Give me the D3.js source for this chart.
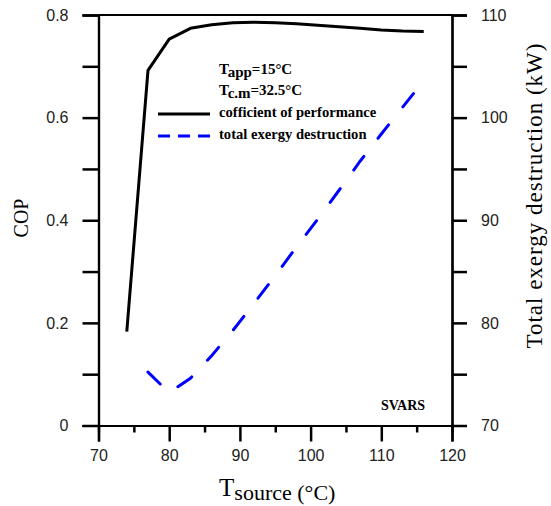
<!DOCTYPE html>
<html>
<head>
<meta charset="utf-8">
<script src="https://cdn.jsdelivr.net/npm/d3@7"></script>
<style>
  body { margin: 0; background: #fff; }
  .tick text { font-family: "Liberation Sans", Arial, sans-serif; font-size: 16px; fill: #222; }
  .serif { font-family: "Liberation Serif", "Times New Roman", serif; }
</style>
</head>
<body>
<div id="chart"></div>
<script>
// data
const tSource = [74, 77, 80, 83, 86, 89, 92, 95, 98, 101, 104, 107, 110, 113, 116];
const cop = [0.183, 0.692, 0.753, 0.774, 0.781, 0.785, 0.786, 0.785, 0.783, 0.780, 0.777, 0.774, 0.771, 0.769, 0.768];
const tExergy = [77, 80, 83, 86, 89, 92, 95, 98, 101, 104, 107, 110, 113, 116];
const exergy = [75.2, 73.2, 74.6, 76.8, 79.25, 81.9, 84.6, 87.4, 90.1, 92.9, 95.75, 98.4, 101.0, 103.6];
const xTicks = [70, 80, 90, 100, 110, 120];
const copTicks = [0, 0.2, 0.4, 0.6, 0.8];
const exTicks = [70, 80, 90, 100, 110];

const W = 551, H = 506;
const margin = {top: 15, right: 99, bottom: 80.5, left: 98.5};
const width = W - margin.left - margin.right;
const height = H - margin.top - margin.bottom;

const svg = d3.select("#chart")
    .append("svg")
    .attr("width", W)
    .attr("height", H)
    .append("g")
    .attr("transform", `translate(${margin.left},${margin.top})`);

const x = d3.scaleLinear().domain([70, 120]).range([0, width]);
const yL = d3.scaleLinear().domain([0, 0.8]).range([height, 0]);
const yR = d3.scaleLinear().domain([70, 110]).range([height, 0]);

// minor ticks first, then major ticks with labels
svg.append("g")
    .attr("transform", `translate(0,${height})`)
    .call(d3.axisBottom(x).tickValues([75, 85, 95, 105, 115]).tickSize(7).tickFormat(""));
svg.append("g")
    .attr("transform", `translate(0,${height})`)
    .call(d3.axisBottom(x).tickValues(xTicks).tickSize(16).tickPadding(8).tickFormat(d3.format("d")));

svg.append("g")
    .call(d3.axisLeft(yL).tickValues([0.1, 0.3, 0.5, 0.7]).tickSize(16).tickFormat(""));
svg.append("g")
    .call(d3.axisLeft(yL).tickValues(copTicks).tickSize(16).tickPadding(14).tickFormat(d => d === 0 ? "0" : d3.format(".1f")(d)));

svg.append("g")
    .attr("transform", `translate(${width},0)`)
    .call(d3.axisRight(yR).tickValues([75, 85, 95, 105]).tickSize(15).tickFormat(""));
svg.append("g")
    .attr("transform", `translate(${width},0)`)
    .call(d3.axisRight(yR).tickValues(exTicks).tickSize(15).tickPadding(14).tickFormat(d3.format("d")));

svg.selectAll(".domain").attr("stroke", "#000").attr("stroke-width", 2.2);
svg.selectAll(".tick line").attr("stroke", "#000").attr("stroke-width", 2.5);

// top frame line
svg.append("line")
    .attr("x1", 0).attr("x2", width)
    .attr("y1", 0).attr("y2", 0)
    .attr("stroke", "#000").attr("stroke-width", 2.2);

// series
const copLine = d3.line().x((d, i) => x(tSource[i])).y(d => yL(d));
svg.append("path")
    .datum(cop)
    .attr("d", copLine)
    .attr("fill", "none")
    .attr("stroke", "#000")
    .attr("stroke-width", 3)
    .attr("stroke-linejoin", "round");

const exLine = d3.line().x((d, i) => x(tExergy[i])).y(d => yR(d));
svg.append("path")
    .datum(exergy)
    .attr("d", exLine)
    .attr("fill", "none")
    .attr("stroke", "#0000ff")
    .attr("stroke-width", 3)
    .attr("stroke-dasharray", "17,23")
    .attr("stroke-linecap", "round");

// legend / annotations (bold Times)
const ann = svg.append("g").attr("class", "serif").style("font-weight", "bold").style("font-size", "15px");

const t1 = ann.append("text").attr("x", 120.5).attr("y", 59);
t1.append("tspan").text("T");
t1.append("tspan").attr("dy", 3).text("app");
t1.append("tspan").attr("dy", -3).text("=15°C");

const t2 = ann.append("text").attr("x", 120.5).attr("y", 80);
t2.append("tspan").text("T");
t2.append("tspan").attr("dy", 3).text("c.m");
t2.append("tspan").attr("dy", -3).text("=32.5°C");

ann.append("line")
    .attr("x1", 59.5).attr("x2", 111.5)
    .attr("y1", 99).attr("y2", 99)
    .attr("stroke", "#000").attr("stroke-width", 3);
ann.append("text").attr("x", 120.5).attr("y", 101.5).style("font-size", "14.6px").text("cofficient of performance");

ann.append("line")
    .attr("x1", 59.5).attr("x2", 112.5)
    .attr("y1", 121).attr("y2", 121)
    .attr("stroke", "#0000ff").attr("stroke-width", 3)
    .attr("stroke-dasharray", "12,8");
ann.append("text").attr("x", 120.5).attr("y", 124).style("font-size", "14.6px").text("total exergy destruction");

ann.append("text").attr("x", 304.5).attr("y", 394.5).style("font-size", "14px")
    .attr("text-anchor", "middle").text("SVARS");

// axis titles
const xt = svg.append("text").attr("class", "serif")
    .attr("x", width / 2 + 2).attr("y", height + 70)
    .attr("text-anchor", "middle");
xt.append("tspan").style("font-size", "25px").text("T");
xt.append("tspan").style("font-size", "22px").attr("dy", 4).text("source (°C)");

svg.append("text").attr("class", "serif")
    .attr("transform", `translate(-71,${218 - margin.top}) rotate(-90)`)
    .attr("text-anchor", "middle")
    .style("font-size", "20px")
    .text("COP");

svg.append("text").attr("class", "serif")
    .attr("transform", `translate(${width + 90},${196 - margin.top}) rotate(-90)`)
    .attr("text-anchor", "middle")
    .style("font-size", "23px")
    .attr("textLength", 305)
    .attr("lengthAdjust", "spacing")
    .text("Total exergy destruction (kW)");
</script>
</body>
</html>
